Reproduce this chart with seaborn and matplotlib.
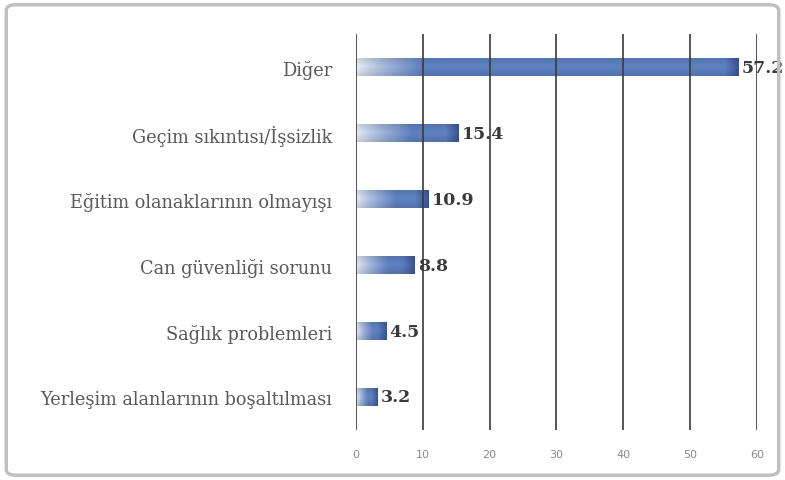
import matplotlib
matplotlib.use("Agg")
import matplotlib.pyplot as plt
import numpy as np
import pandas as pd
import seaborn as sns
from matplotlib.colors import to_rgb
from matplotlib.patches import FancyBboxPatch

categories = [
    "Diğer",
    "Geçim sıkıntısı/İşsizlik",
    "Eğitim olanaklarının olmayışı",
    "Can güvenliği sorunu",
    "Sağlık problemleri",
    "Yerleşim alanlarının boşaltılması",
]
values = [57.2, 15.4, 10.9, 8.8, 4.5, 3.2]
xticks = [0, 10, 20, 30, 40, 50, 60]

df = pd.DataFrame({"reason": categories, "pct": values})

sns.set_style("white")
plt.rcParams["font.family"] = ["DejaVu Serif"]

fig = plt.figure(figsize=(7.85, 4.81), dpi=100)
ax = fig.add_axes([0.4535, 0.104, 0.5108, 0.823])

sns.barplot(data=df, x="pct", y="reason", orient="h", width=0.28,
            color="#5b7fc0", ax=ax)

pale = np.array(to_rgb("#eef2f9"))
mid = np.array(to_rgb("#5f82c2"))
dark = np.array(to_rgb("#3a5599"))


def bar_colors(w, n=300):
    # pale -> blue over the first part of the bar, darker cap at the end
    xs = np.linspace(0, w, n)
    ramp = min(10.0, 0.55 * w)
    t = np.clip(xs / ramp, 0, 1) ** 0.8
    col = pale[None, :] * (1 - t[:, None]) + mid[None, :] * t[:, None]
    cap = min(2.0, 0.3 * w)
    d = np.clip((xs - (w - cap)) / cap, 0, 1)[:, None]
    col = col * (1 - d) + dark[None, :] * d
    # slight vertical shading
    shade = 1 - 0.12 * np.abs(np.linspace(-1, 1, 20))[:, None, None]
    return np.clip(col[None, :, :] * shade, 0, 1)


for p in ax.patches:
    x0, y0 = p.get_x(), p.get_y()
    w, h = p.get_width(), p.get_height()
    img = ax.imshow(bar_colors(w), extent=[x0, x0 + w, y0 + h, y0],
                    aspect="auto", zorder=2, interpolation="bilinear")
    img.set_clip_path(p)
    p.set_facecolor("none")
    p.set_edgecolor("none")
    p.set_zorder(2)
    ax.text(x0 + w + 0.5, y0 + h / 2, f"{w:.1f}", va="center", ha="left",
            fontsize=12.5, fontweight="bold", color="#3a3a3a", zorder=2,
            clip_on=False)

ax.set_xlim(0, 60)
ax.set_ylim(len(categories) - 0.5, -0.5)
ax.set_xticks(xticks)
ax.set_xticklabels([str(t) for t in xticks], family="DejaVu Sans",
                   fontsize=8, color="#8a8a8a")
ax.tick_params(axis="x", length=0, pad=14)
ax.tick_params(axis="y", length=0, pad=17, labelsize=12.8, labelcolor="#5a5a5a")
ax.set_xlabel("")
ax.set_ylabel("")
ax.grid(axis="x", color="#3a3a3a", linewidth=1.2, zorder=3)
ax.set_axisbelow(False)
for s in ["top", "right", "bottom", "left"]:
    ax.spines[s].set_visible(False)

# outer frame
frame = FancyBboxPatch((0.008, 0.01), 0.984, 0.978, transform=fig.transFigure,
                       boxstyle="round,pad=0,rounding_size=0.012",
                       facecolor="none", edgecolor="#c0c0c0", linewidth=2.5)
fig.patches.append(frame)

fig.savefig("out.png", dpi=100)
